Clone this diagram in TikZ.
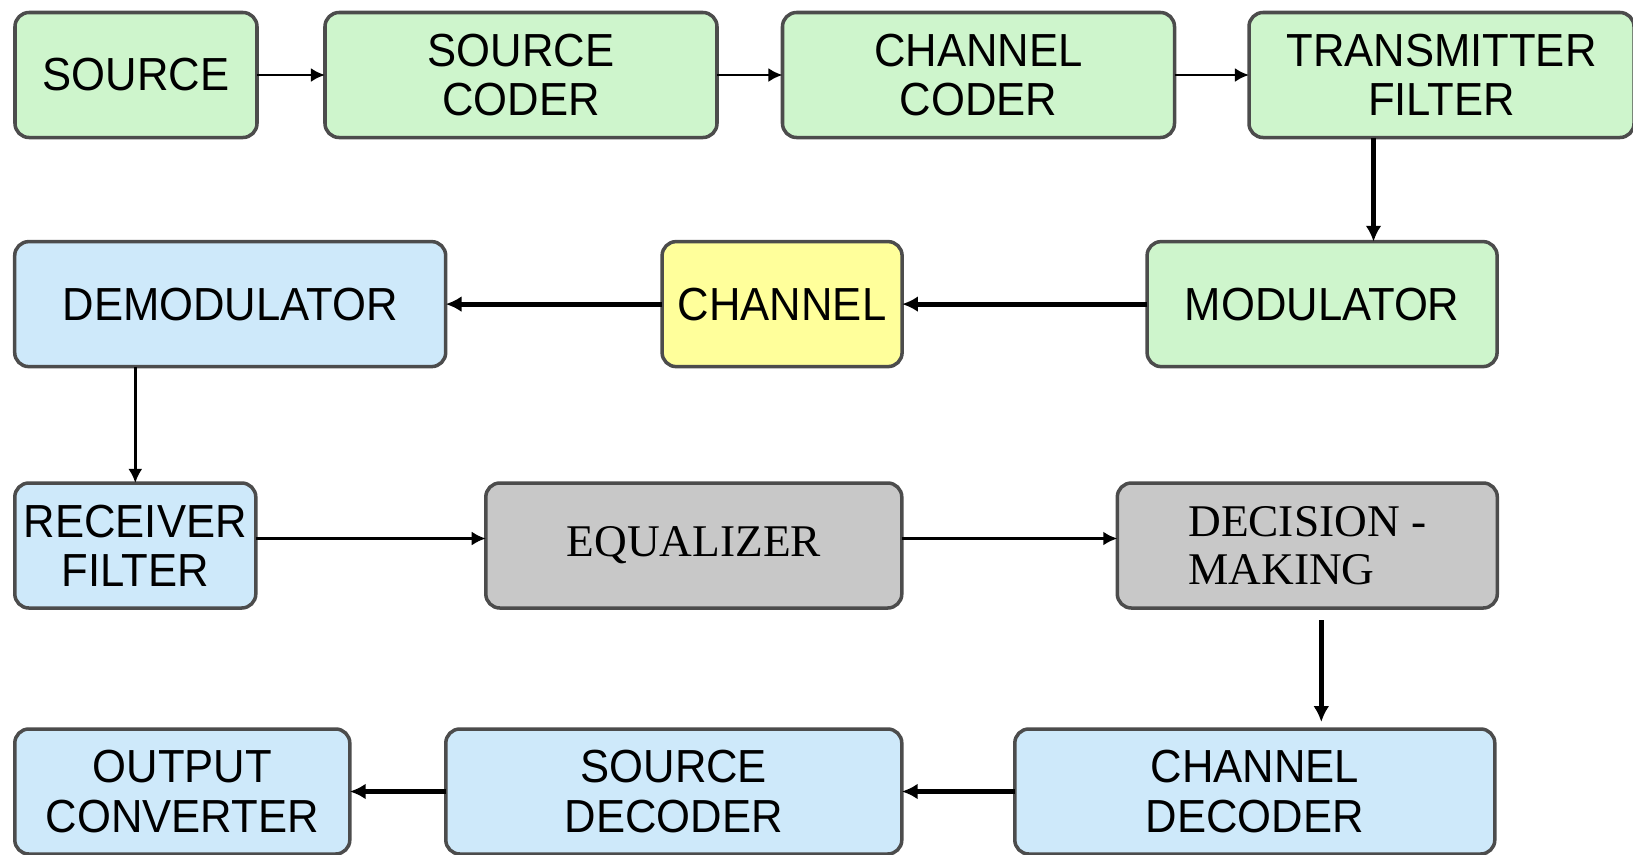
\documentclass[tikz,border=0pt]{standalone}
\usepackage{fontspec}
\setmainfont{Liberation Sans}[FakeStretch=0.94]
\newfontfamily\timesfont{Liberation Serif}
\usetikzlibrary{arrows.meta, positioning}

\definecolor{txgreen}{RGB}{206,245,204}
\definecolor{rxblue}{RGB}{206,233,250}
\definecolor{chyellow}{RGB}{255,255,155}
\definecolor{eqgray}{RGB}{200,200,200}

\begin{document}
\begin{tikzpicture}[
        box/.style={rectangle, draw=black!70, line width=1pt, rounded corners=4pt, minimum height=1.25cm, inner sep=2pt, outer sep=0pt, align=center, font=\fontsize{13.2}{14}\selectfont},
        txbox/.style={box, fill=txgreen},
        rxbox/.style={box, fill=rxblue},
        chbox/.style={box, fill=chyellow},
        eqbox/.style={box, fill=eqgray, font=\timesfont\fontsize{12.9}{13.8}\selectfont},
        arrow/.style={-{Latex[length=4pt, width=4pt]}, line width=0.8pt},
        heavyarrow/.style={-{Latex[length=4.5pt, width=4.5pt]}, line width=1.4pt}
    ]
    \useasboundingbox (0,0) rectangle (16.33,-8.54);

    % Nodes: transmitter chain
    \node (src) [txbox, minimum width=2.42cm] at (1.36,-0.75) {SOURCE};
    \node (scoder) [txbox, minimum width=3.92cm, right=0.68cm of src] {SOURCE\\CODER};
    \node (ccoder) [txbox, minimum width=3.92cm, right=0.655cm of scoder] {CHANNEL\\CODER};
    \node (tfilter) [txbox, minimum width=3.85cm, right=0.745cm of ccoder] {TRANSMITTER\\FILTER};

    % Nodes: channel row
    \node (demod) [rxbox, minimum width=4.31cm] at (2.302,-3.041) {DEMODULATOR};
    \node (chan) [chbox, minimum width=2.40cm, right=2.164cm of demod] {CHANNEL};
    \node (mod) [txbox, minimum width=3.50cm, right=2.45cm of chan] {MODULATOR};

    % Nodes: receiver chain
    \node (rfilter) [rxbox, minimum width=2.41cm] at (1.353,-5.455) {RECEIVER\\FILTER};
    \node (equal) [eqbox, minimum width=4.16cm, right=2.30cm of rfilter] {EQUALIZER};
    \node (decide) [eqbox, minimum width=3.80cm, right=2.155cm of equal, align=left] {DECISION -\\MAKING};

    \node (output) [rxbox, minimum width=3.35cm] at (1.823,-7.915) {OUTPUT\\CONVERTER};
    \node (sdecoder) [rxbox, minimum width=4.56cm, right=0.96cm of output] {SOURCE\\DECODER};
    \node (cdecoder) [rxbox, minimum width=4.80cm, right=1.13cm of sdecoder] {CHANNEL\\DECODER};

    % Arrows
    \draw [arrow] (src) -- (scoder);
    \draw [arrow] (scoder) -- (ccoder);
    \draw [arrow] (ccoder) -- (tfilter);
    \draw [heavyarrow] ([xshift=-0.68cm]tfilter.south) -- ([xshift=-0.68cm]tfilter.south |- mod.north);
    \draw [heavyarrow] (mod) -- (chan);
    \draw [heavyarrow] (chan) -- (demod);
    \draw [arrow] (demod.south -| rfilter.north) -- (rfilter.north);
    \draw [arrow] ([yshift=0.07cm]rfilter.east) -- ([yshift=0.07cm]equal.west);
    \draw [arrow] ([yshift=0.07cm]equal.east) -- ([yshift=0.07cm]decide.west);
    \draw [heavyarrow, shorten >=0.07cm] ([xshift=0.14cm, yshift=-0.12cm]decide.south) -- ([xshift=0.14cm]decide.south |- cdecoder.north);
    \draw [heavyarrow] (cdecoder) -- (sdecoder);
    \draw [heavyarrow] (sdecoder) -- (output);
\end{tikzpicture}
\end{document}
